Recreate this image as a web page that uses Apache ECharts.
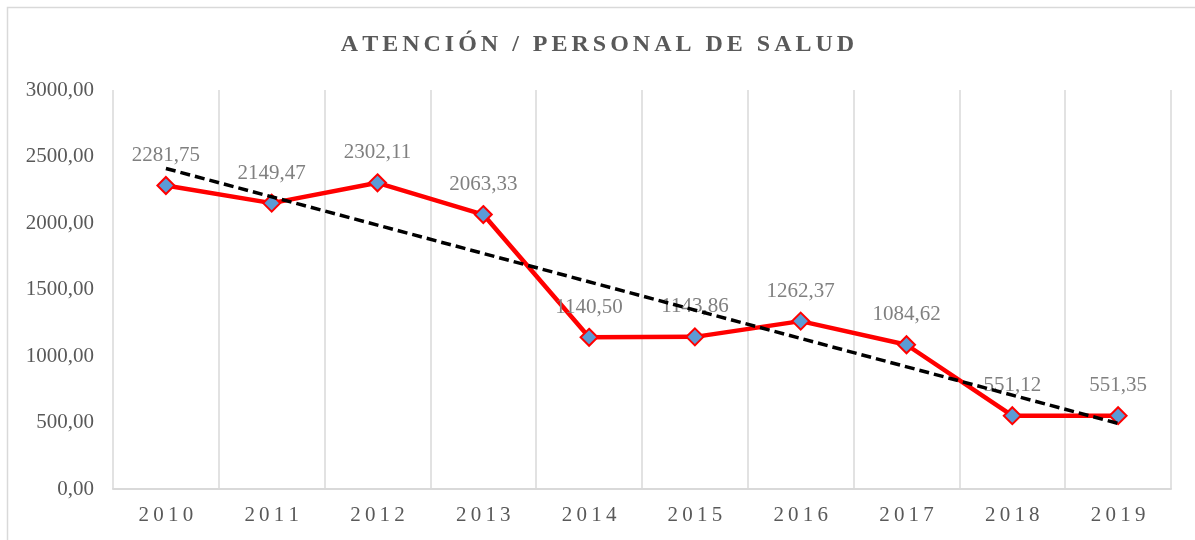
<!DOCTYPE html>
<html>
<head>
<meta charset="utf-8">
<style>
  html, body { margin: 0; padding: 0; background: #fff; }
  #chart { width: 1195px; height: 540px; }
</style>
<script src="https://cdn.jsdelivr.net/npm/echarts@6/dist/echarts.min.js"></script>
</head>
<body>
<div id="chart"></div>
<script>
const years = ['2010', '2011', '2012', '2013', '2014', '2015', '2016', '2017', '2018', '2019'];
const atencion = [2281.75, 2149.47, 2302.11, 2063.33, 1140.50, 1143.86, 1262.37, 1084.62, 551.12, 551.35];
// trendline end points
const tendencia = [2410, null, null, null, null, null, null, null, null, 493];

const serif = '"Liberation Serif", "Times New Roman", serif';
const fmt = v => v.toFixed(2).replace('.', ',');
const spaced = (s, sp = '\u2009') => s.split('').join(sp);

const chart = echarts.init(document.getElementById('chart'));

chart.setOption({
    backgroundColor: '#fff',
    animation: false,
    title: {
        text: spaced('ATENCIÓN / PERSONAL DE SALUD', '\u2006'),
        left: 'center',
        top: 28,
        textStyle: { fontFamily: serif, fontSize: 24, fontWeight: 'bold', color: '#595959' }
    },
    graphic: [{
        type: 'rect',
        shape: { x: 7.5, y: 7.5, width: 1200, height: 540 },
        style: { fill: 'none', stroke: '#d9d9d9', lineWidth: 1.5 },
        silent: true
    }],
    grid: { left: 113, right: 24, top: 90, bottom: 51 },
    xAxis: {
        type: 'category',
        data: years,
        boundaryGap: true,
        axisLine: { lineStyle: { color: '#d9d9d9', width: 2 } },
        axisTick: { show: false },
        splitLine: { show: true, lineStyle: { color: '#d9d9d9', width: 1.5 } },
        axisLabel: {
            margin: 16,
            fontFamily: serif,
            fontSize: 21,
            color: '#595959',
            formatter: v => spaced(v)
        }
    },
    yAxis: {
        type: 'value',
        min: 0,
        max: 3000,
        interval: 500,
        axisLine: { show: false },
        axisTick: { show: false },
        splitLine: { show: false },
        axisLabel: {
            margin: 19,
            fontFamily: serif,
            fontSize: 21,
            color: '#595959',
            formatter: v => fmt(v)
        }
    },
    series: [
        {
            name: 'Atención',
            type: 'line',
            data: atencion,
            symbol: 'diamond',
            symbolSize: 17,
            lineStyle: { color: '#ff0000', width: 4.5 },
            itemStyle: { color: '#5b9bd5', borderColor: '#ff0000', borderWidth: 2 },
            label: {
                show: true,
                position: 'top',
                distance: 10,
                fontFamily: serif,
                fontSize: 21,
                color: '#808080',
                formatter: p => fmt(p.value)
            },
            z: 2
        },
        {
            name: 'Tendencia',
            type: 'line',
            data: tendencia,
            connectNulls: true,
            symbol: 'none',
            lineStyle: { color: '#000', width: 3.5, type: [10, 5] },
            z: 3
        }
    ]
});
</script>
</body>
</html>
